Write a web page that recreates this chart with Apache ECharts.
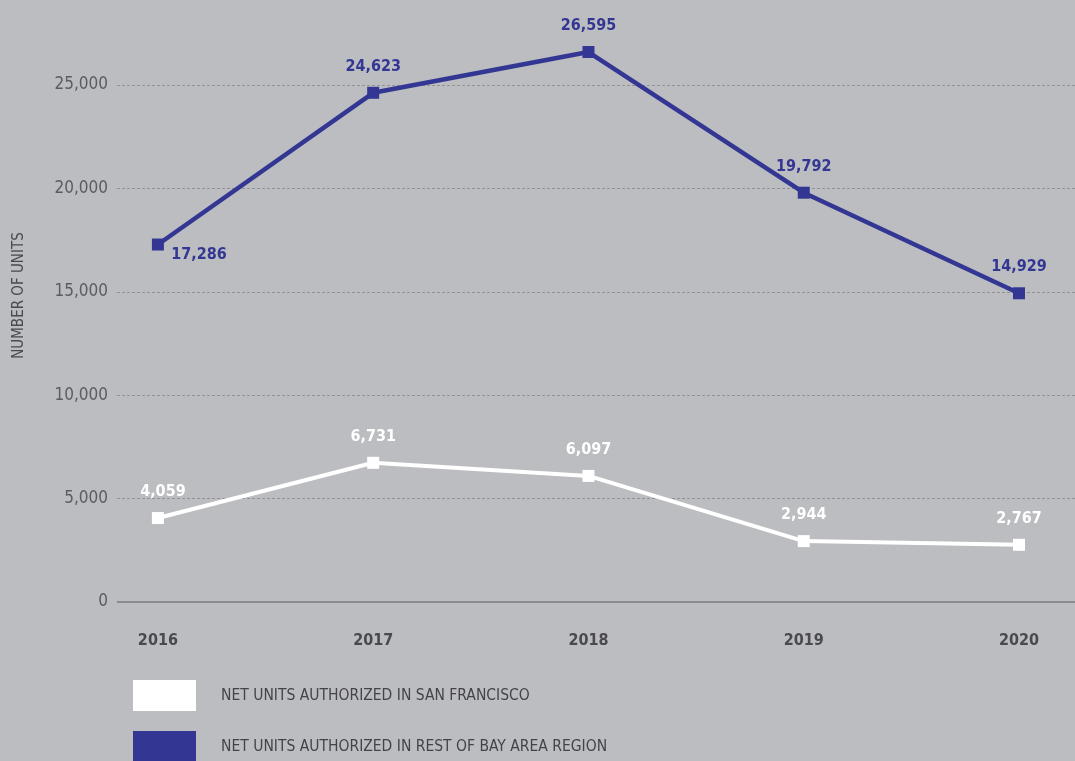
<!DOCTYPE html>
<html>
<head>
<meta charset="utf-8">
<script src="https://cdn.jsdelivr.net/npm/echarts@6/dist/echarts.min.js"></script>
<style>
  html, body { margin: 0; padding: 0; background: #bcbdc1; }
  #chart { width: 1075px; height: 761px; }
</style>
</head>
<body>
<div id="chart"></div>
<script>
// Housing units authorized, 2016–2020
const years = [2016, 2017, 2018, 2019, 2020];
const sanFrancisco = [4059, 6731, 6097, 2944, 2767];
const restOfBayArea = [17286, 24623, 26595, 19792, 14929];
const yTicks = [0, 5000, 10000, 15000, 20000, 25000];
const seriesNames = ['NET UNITS AUTHORIZED IN SAN FRANCISCO', 'NET UNITS AUTHORIZED IN REST OF BAY AREA REGION'];

const FONT = '"Liberation Sans Narrow", "DejaVu Sans Condensed", "Roboto Condensed", "Noto Sans", sans-serif';
const BLUE = '#333793';
const fmt = v => v.toLocaleString('en-US');
const pairs = arr => arr.map((v, i) => [years[i], v]);

const legendBase = {
  orient: 'horizontal',
  left: 133,
  padding: 0,
  itemWidth: 63,
  itemHeight: 31,
  icon: 'rect',
  textStyle: { fontFamily: FONT, fontSize: 15.5, color: '#444448', padding: [0, 0, 0, 20] }
};

const chart = echarts.init(document.getElementById('chart'));
chart.setOption({
  backgroundColor: '#bcbdc1',
  animation: false,
  textStyle: { fontFamily: FONT },
  grid: { left: 117, right: 0, top: 85, bottom: 159, outerBoundsMode: 'none', containLabel: false },
  legend: [
    Object.assign({}, legendBase, { top: 680, data: [seriesNames[0]] }),
    Object.assign({}, legendBase, { top: 731, data: [seriesNames[1]] })
  ],
  xAxis: {
    type: 'value',
    min: 2015.81,
    max: 2020.26,
    axisLine: { show: false },
    axisTick: { show: false },
    splitLine: { show: false },
    axisLabel: {
      customValues: years,
      formatter: v => String(Math.round(v)),
      margin: 31,
      fontFamily: FONT,
      fontWeight: 'bold',
      fontSize: 16,
      color: '#4a4a4e'
    }
  },
  yAxis: {
    type: 'value',
    min: 0,
    max: 25000,
    interval: 5000,
    name: 'NUMBER OF UNITS',
    nameLocation: 'middle',
    nameRotate: 90,
    nameGap: 90,
    nameTextStyle: { fontFamily: FONT, fontSize: 15, color: '#4a4a4e', padding: [0, 0, 0, 96] },
    axisLine: { show: false },
    axisTick: { show: false },
    axisLabel: {
      formatter: v => yTicks.includes(v) ? fmt(v) : '',
      margin: 9,
      fontFamily: FONT,
      fontSize: 17,
      color: '#5c5c60'
    },
    splitLine: {
      lineStyle: { color: '#939397', type: [3, 2], width: 1 }
    }
  },
  series: [
    {
      name: seriesNames[0],
      type: 'line',
      data: pairs(sanFrancisco),
      clip: false,
      symbol: 'rect',
      symbolSize: 12,
      lineStyle: { color: '#ffffff', width: 4 },
      itemStyle: { color: '#ffffff' },
      label: {
        show: true,
        position: 'top',
        distance: 12,
        formatter: p => fmt(p.value[1]),
        fontFamily: FONT,
        fontWeight: 'bold',
        fontSize: 16,
        color: '#ffffff'
      },
      labelLayout: p => p.dataIndex === 0 ? { dx: 5 } : {},
      markLine: {
        silent: true,
        symbol: 'none',
        label: { show: false },
        lineStyle: { color: '#8c8c90', width: 2, type: 'solid' },
        data: [{ yAxis: 0 }]
      },
      z: 3
    },
    {
      name: seriesNames[1],
      type: 'line',
      data: pairs(restOfBayArea),
      clip: false,
      symbol: 'rect',
      symbolSize: 12,
      lineStyle: { color: BLUE, width: 4.5 },
      itemStyle: { color: BLUE },
      label: {
        show: true,
        position: 'top',
        distance: 12,
        formatter: p => fmt(p.value[1]),
        fontFamily: FONT,
        fontWeight: 'bold',
        fontSize: 16,
        color: BLUE
      },
      labelLayout: p => p.dataIndex === 0 ? { dx: 41, dy: 36 } : {},
      z: 4
    }
  ]
});
</script>
</body>
</html>
